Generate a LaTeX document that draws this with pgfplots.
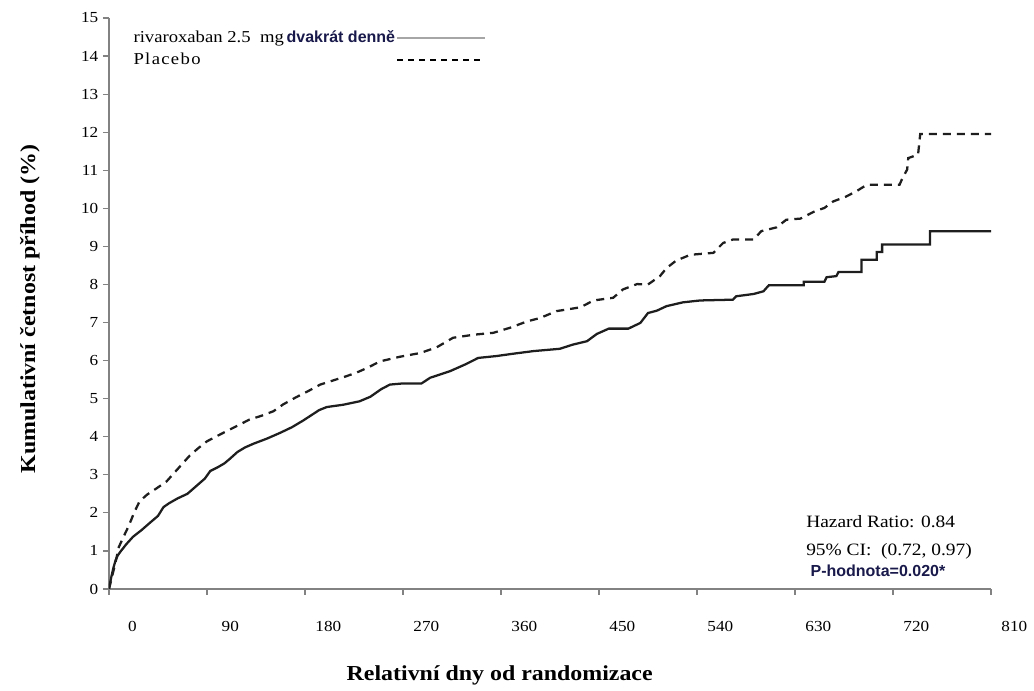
\documentclass[border=0pt]{standalone}
\usepackage{fontspec}
\setmainfont{Liberation Serif}[FakeStretch=1.12]
\newfontfamily\arialfont{Liberation Sans}
\usepackage{pgfplots}
\pgfplotsset{compat=1.18}
\definecolor{navytext}{RGB}{25,25,75}
\definecolor{curve}{RGB}{30,30,30}
\definecolor{axisgray}{RGB}{130,130,130}

\begin{document}
\begin{tikzpicture}
% page is 1034 x 691 px, 1 px = 0.75pt
\useasboundingbox (0,0) rectangle (775.5pt,518.25pt);
\begin{axis}[
  at={(81.75pt,76.5pt)}, anchor=south west,
  scale only axis, width=661.5pt, height=428.25pt,
  xmin=0, xmax=810, ymin=0, ymax=15,
  axis x line*=bottom, axis y line*=left,
  axis line style={axisgray, line width=0.9pt},
  xtick={0,90,...,810}, ytick={0,1,...,15},
  tick align=outside, major tick length=4.5pt,
  tick style={axisgray, line width=0.9pt},
  /pgf/number format/assume math mode=true,
  tick label style={font=\fontsize{11.5}{13}\selectfont},
  xticklabel style={anchor=center, xshift=17.5pt, yshift=-23.5pt},
  xlabel={Relativní dny od randomizace},
  ylabel={Kumulativní četnost příhod (\%)},
  label style={font=\fontsize{16}{19}\selectfont\bfseries},
  xlabel style={at={(axis description cs:0.443,-0.152)}, anchor=center},
  ylabel style={at={(axis description cs:-0.0896,0.49)}, anchor=center},
  legend plot pos=right,
  legend cell align=left,
  legend image code/.code={\draw[#1] (0pt,0pt) -- (66pt,0pt);},
  legend style={at={(axis description cs:0.026,0.98)}, anchor=north west,
    draw=none, fill=none, font=\fontsize{12.5}{14}\selectfont,
    row sep=4pt, inner sep=0pt,
    nodes={inner sep=1pt}},
]
\addlegendimage{gray!70, line width=1.2pt}
\addlegendentry{rivaroxaban 2.5\ \ mg\,{\arialfont\bfseries\color{navytext}\fontsize{12}{14}\selectfont dvakrát denně}}
\addlegendimage{black, line width=1.5pt, dash pattern=on 4.5pt off 3.75pt}
\addlegendentry{{\addfontfeature{LetterSpace=8}Placebo}}

% rivaroxaban 2.5 mg twice daily
\addplot[curve, line width=1.7pt, forget plot] coordinates {
(0,0) (2,0.3) (4,0.55) (6,0.75) (8,0.88) (11,1.0) (16,1.18) (22,1.37)
(30,1.55) (38,1.75) (45,1.92) (50,2.15) (55,2.25) (63,2.38) (72,2.5)
(80,2.7) (88,2.9) (93,3.1) (100,3.2) (106,3.3) (111,3.42) (118,3.6)
(125,3.72) (133,3.82) (145,3.95) (157,4.1) (168,4.25) (178,4.42)
(185,4.55) (193,4.7) (200,4.78) (215,4.84) (230,4.93) (240,5.05)
(250,5.25) (258,5.37) (270,5.40) (287,5.40) (295,5.55) (313,5.72)
(328,5.91) (339,6.07) (356,6.12) (371,6.18) (390,6.25) (414,6.31)
(426,6.42) (439,6.51) (448,6.70) (459,6.84) (477,6.84) (488,6.99)
(495,7.25) (503,7.31) (512,7.43) (527,7.53) (543,7.58) (573,7.60)
(576,7.69) (592,7.75) (601,7.82) (606,7.98)
(638,7.98) (638,8.07) (657,8.07) (659,8.19) (668,8.22) (670,8.33)
(691,8.33) (691,8.65) (705,8.65) (705,8.85) (710,8.85) (710,9.05)
(754,9.05) (754,9.40) (810,9.40)
};

% placebo
\addplot[curve, line width=1.7pt, dash pattern=on 6pt off 4.5pt, forget plot] coordinates {
(0,0) (3,0.35) (6,0.7) (9,1.1) (13,1.35) (18,1.65) (23,2.0) (28,2.3)
(35,2.48) (44,2.65) (53,2.83) (63,3.15) (74,3.5) (82,3.7) (90,3.88)
(100,4.03) (111,4.19) (120,4.32) (129,4.45) (140,4.55) (151,4.67)
(160,4.85) (172,5.04) (183,5.2) (194,5.37) (206,5.48) (217,5.58)
(227,5.68) (238,5.82) (249,5.98) (267,6.1) (286,6.2) (301,6.35)
(316,6.6) (335,6.68) (353,6.73) (368,6.86) (384,7.03) (396,7.12)
(411,7.30) (433,7.40) (445,7.58) (463,7.65) (472,7.87) (485,8.01)
(495,8.0) (506,8.22) (512,8.43) (521,8.63) (534,8.78) (555,8.83)
(564,9.09) (573,9.18) (592,9.18) (599,9.40) (613,9.50) (622,9.70)
(635,9.73) (648,9.92) (657,10.01) (665,10.18) (677,10.31) (687,10.46)
(696,10.62) (726,10.62) (728,10.75) (733,11.02) (734,11.32) (743,11.41)
(745,11.95) (810,11.95)
};

\node[anchor=west, font=\fontsize{13}{15}\selectfont] at (axis cs:636,1.76) {Hazard Ratio: 0.84};
\node[anchor=west, font=\fontsize{13}{15}\selectfont] at (axis cs:636,1.0) {95\% CI:\ \ (0.72, 0.97)};
\node[anchor=west, font=\fontsize{12}{14}\selectfont\arialfont\bfseries, text=navytext] at (axis cs:640,0.47) {P-hodnota=0.020*};
\end{axis}
\end{tikzpicture}
\end{document}
